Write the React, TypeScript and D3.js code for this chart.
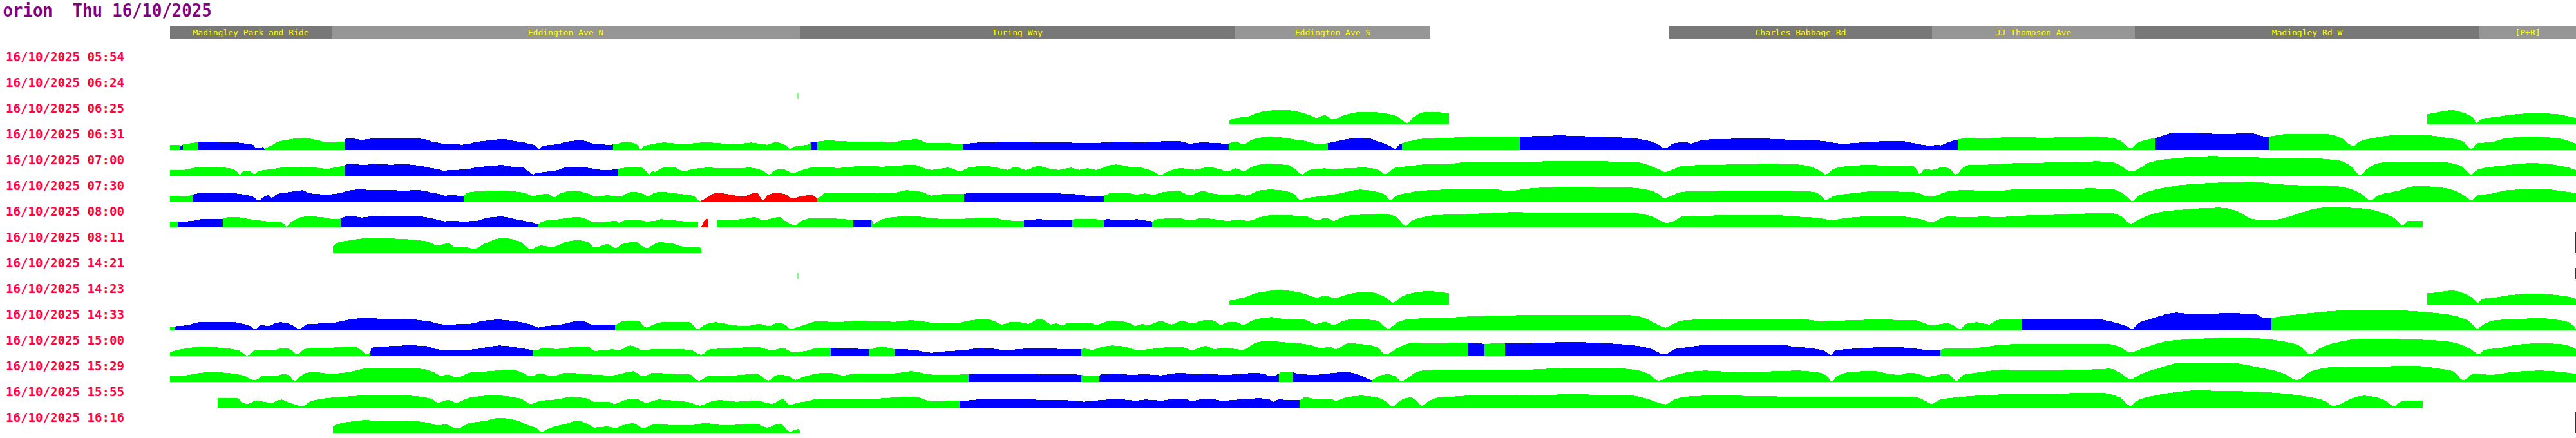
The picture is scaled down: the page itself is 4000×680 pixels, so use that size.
import React from "react";
import * as d3 from "d3";

type Pt = [number, number];
type Seg = [number, number, string];

const title = "orion  Thu 16/10/2025";
const journeyTimes = [
  "16/10/2025 05:54", "16/10/2025 06:24", "16/10/2025 06:25", "16/10/2025 06:31",
  "16/10/2025 07:00", "16/10/2025 07:30", "16/10/2025 08:00", "16/10/2025 08:11",
  "16/10/2025 14:21", "16/10/2025 14:23", "16/10/2025 14:33", "16/10/2025 15:00",
  "16/10/2025 15:29", "16/10/2025 15:55", "16/10/2025 16:16",
];
const stopNames = ["Madingley Park and Ride", "Eddington Ave N", "Turing Way", "Eddington Ave S", "Charles Babbage Rd", "JJ Thompson Ave", "Madingley Rd W", "[P+R]"];
const stopFrom = [0, 251, 978, 1654, 2328, 2736, 3051, 3586];
const stopTo = [251, 978, 1654, 1957, 2736, 3051, 3586, 3736];
const ROUTE_LENGTH = 3736;
// journeys that carry on past the right edge: row index and height
const edgeRows = [7, 8, 14];
const edgeHeights = [33, 17, 33];

const speed0554: Pt[] = [];
const status0554: Seg[] = [];
const speed0624: Pt[] = [[974, 9], [976, 9]];
const status0624: Seg[] = [[974.5, 975.5, "g"]];
const speed0625: Pt[] = [[1645,6],[1651,9],[1674,12],[1686,17],[1706,21],[1718,22],[1734,22],[1754,19],[1770,14],[1781,10],[1793,14],[1805,8],[1826,15],[1846,19],[1866,19],[1886,17],[1906,12],[1921,2],[1931,11],[1951,19],[1969,19],[1986,17],
[3505,16],[3522,19],[3542,22],[3558,19],[3570,14],[3578,8],[3581,2],[3590,9],[3610,11],[3634,15],[3674,17],[3706,16],[3730,11],[3736,10]];
const status0625: Seg[] = [[1645,1986,"g"],[3505,3736,"g"]];
const speed0631: Pt[] = [[0,7.7],[15,7.7],[16,7],[19,7],[20,9.3],[36,11],[44,12.7],[102,12],[116,10.3],[129,8.3],[133,3.3],[140,2.7],[144,5.3],[147,1],[149,3.3],[156,6],[165,12],[178,15.3],[209,18.7],[227,16],[245,12],[271,13.3],[273,17.7],[281,18.3],[298,16],[316,18.3],[361,18],[386,17.7],[396,16.7],[406,13.3],[419,11],[426,9.3],[439,10],[453,8.3],[466,10],[476,12.7],[486,14],[513,16.7],[523,16.7],[533,14.3],[549,12],[559,9.3],[568,6.7],[573,2],[578,6],[586,7.7],[599,8.7],[613,12],[619,13.3],[639,15.3],[649,12.7],[659,9.3],[686,8.3],[688,8.7],[699,11],[709,12.7],[719,11],[726,7.7],[731,1],[736,6],[746,8.7],[759,11],[768,11.7],[787,10],[800,9.3],[825,11.7],[851,11.3],[864,9.3],[889,10],[902,11.7],[915,10],[927,8.3],[940,12],[953,9.3],[964,1],[967,4.3],[978,6.7],[991,8.7],[996,12.7],[1005,13.3],[1023,15],[1055,13.3],[1093,13.3],[1119,12],[1144,16],[1160,16.7],[1176,11],[1208,11],[1232,8.7],[1237,10],[1265,12],[1310,12.7],[1374,12],[1438,11],[1476,13.3],[1501,12],[1565,14.3],[1584,10],[1603,12],[1642,10],[1654,13.3],[1667,9.3],[1680,16],[1693,19.3],[1705,20.7],[1736,18.5],[1749,16],[1762,14.3],[1774,11],[1784,9.3],[1798,11],[1819,15.3],[1841,18.7],[1864,17.7],[1876,13.3],[1892,7.7],[1903,2],[1908,7.7],[1927,14.3],[1946,17.7],[1991,19.3],[2017,20.7],[2096,20.7],[2119,21.7],[2160,22.7],[2208,21],[2259,19.3],[2284,16.7],[2310,9.3],[2321,2.7],[2336,11],[2355,12],[2361,10],[2374,14.3],[2393,16.7],[2469,18],[2501,16.7],[2565,14.3],[2597,10],[2616,11],[2629,12],[2667,14],[2693,13.7],[2705,11.3],[2736,6.7],[2742,8.3],[2749,7.3],[2762,12.7],[2774,16],[2793,18.7],[2819,18],[2851,20],[2915,19.3],[2946,20],[2991,20.7],[3017,18.7],[3029,14.3],[3045,2.7],[3055,11],[3068,16],[3083,18.7],[3093,22],[3112,26.7],[3144,26.7],[3182,25],[3233,26],[3253,21],[3265,21.7],[3284,25],[3342,25.3],[3361,22.7],[3374,17.7],[3390,6],[3399,12.7],[3425,19.3],[3438,21.7],[3476,24.3],[3501,23.7],[3533,19.3],[3559,14.3],[3573,2],[3584,11],[3603,12],[3629,18.7],[3667,21],[3705,18.7],[3725,14.3],[3736,9.3]];
const status0631: Seg[] = [[0,15,"g"],[15,20,"b"],[20,44,"g"],[44,147,"b"],[147,272,"g"],[272,688,"b"],[688,996,"g"],[996,1005,"b"],[1005,1232,"g"],[1232,1644,"b"],[1644,1798,"g"],[1798,1913,"b"],[1913,2096,"g"],[2096,2776,"b"],[2776,3083,"g"],[3083,3260,"b"],[3260,3736,"g"]];
const speed0700: Pt[] = [[0,8.7],[17,8.7],[31,11],[48,14],[66,14],[93,11.7],[104,6.7],[108,1],[113,6.7],[122,7.7],[131,2.7],[138,7.7],[156,10],[173,12.7],[200,12.7],[214,14.3],[227,12.7],[245,11],[258,13.7],[271,15.7],[273,17.7],[281,18.7],[303,16.7],[316,18.7],[343,17.3],[361,18],[386,16],[396,14.3],[406,12],[419,10],[423,8.3],[446,9.3],[466,11],[476,13.3],[486,14.3],[496,15.3],[513,16.7],[523,16],[533,13.7],[549,12.7],[553,9.3],[559,5.3],[564,2],[569,5.3],[576,5.3],[586,6.7],[603,9.3],[613,12.7],[619,13.7],[639,13.3],[653,12],[669,9.3],[686,9.3],[696,11],[706,12.7],[719,14.3],[733,12.7],[739,7.7],[744,2],[749,7.7],[752,6],[762,11],[774,14.3],[784,12.7],[797,7.7],[819,11.7],[838,12.7],[864,11.7],[902,12.7],[921,7.7],[931,2],[940,9.3],[953,10],[966,4.3],[978,7.7],[997,13.3],[1017,14.3],[1036,12],[1055,14],[1080,15.3],[1106,14.3],[1131,16],[1154,17.3],[1182,9.3],[1208,12.7],[1227,7.7],[1240,12.7],[1265,15.3],[1284,12.7],[1300,9.3],[1313,14.3],[1329,9.3],[1348,15.3],[1367,11],[1380,9.3],[1399,12.7],[1412,9.3],[1425,12],[1438,9.3],[1457,16],[1469,17.7],[1489,14.3],[1508,12.7],[1527,6.7],[1538,1],[1546,5.3],[1571,12],[1591,9.3],[1610,13.3],[1629,11],[1642,6.7],[1654,11.7],[1667,7.3],[1680,14.3],[1705,18.7],[1736,16.7],[1746,11],[1758,2],[1768,8.7],[1793,11.7],[1806,10],[1825,11.7],[1857,12.7],[1876,9.3],[1887,2.7],[1902,12.7],[1927,15.3],[1946,17.7],[1978,17.7],[2017,21.7],[2080,21.7],[2144,22.7],[2214,22.7],[2278,21.3],[2297,16],[2310,11],[2321,6],[2336,11],[2348,15.3],[2374,16.7],[2431,17.7],[2482,18.7],[2533,17.3],[2552,12.7],[2565,6],[2571,2],[2581,9.3],[2597,14.3],[2629,16.7],[2705,15.3],[2712,11],[2716,2.7],[2725,10],[2736,9.3],[2752,13.3],[2762,12],[2773,2],[2784,12.7],[2793,16.7],[2832,17.7],[2870,20],[2953,21],[2991,22.7],[3017,21],[3029,16],[3045,6.7],[3055,10],[3074,21],[3119,27.7],[3170,30.7],[3221,29.3],[3278,27.7],[3310,27.7],[3367,24.3],[3387,14.3],[3401,1],[3412,11],[3438,21],[3501,22],[3533,21],[3559,14.3],[3573,2],[3584,10],[3629,16.7],[3667,20],[3705,16.7],[3725,12.7],[3736,9.3]];
const status0700: Seg[] = [[0,272,"g"],[272,696,"b"],[696,3736,"g"]];
const speed0730: Pt[] = [[0,8.7],[13,8.7],[22,8],[36,11],[40,12],[53,14],[102,12.7],[120,10],[129,7.7],[138,1.7],[144,6],[153,10],[158,6],[162,8.7],[171,13.3],[182,14.3],[205,17.7],[218,12.7],[227,12],[245,10.7],[267,14.3],[281,17.7],[294,18.7],[361,17.3],[386,17.7],[399,16],[406,13.3],[419,12],[426,9.3],[439,10],[456,8.7],[459,12],[469,15.3],[513,17],[533,16],[553,12.7],[563,8.7],[573,10.7],[586,12],[596,6.7],[606,12.7],[626,16.7],[639,15.3],[653,11],[659,7.7],[679,10],[699,7.7],[709,12.7],[719,15.3],[733,12.7],[743,8.3],[749,12],[762,15.3],[781,13.3],[800,11],[813,8.7],[823,1],[828,2.7],[838,9.3],[848,13.3],[864,12],[889,8],[905,12.7],[911,14],[921,2],[927,9.3],[940,13.3],[956,11.3],[966,5],[978,7.7],[997,10.7],[1004,6],[1007,6],[1017,13.3],[1029,14.3],[1055,13.7],[1080,14.3],[1119,12.7],[1144,17.7],[1170,14.3],[1182,9.3],[1202,12],[1233,12],[1237,12.7],[1278,13.3],[1310,12.7],[1374,12.7],[1412,11],[1431,8.3],[1450,9.3],[1463,14.3],[1482,14.3],[1501,11],[1514,12.7],[1527,10.7],[1540,14.3],[1565,16.7],[1584,10],[1603,16],[1622,12],[1642,10.7],[1661,12],[1670,9.3],[1693,17.7],[1712,18.7],[1736,15.5],[1746,11],[1755,2.7],[1765,5.3],[1781,7.7],[1800,10],[1819,13.3],[1848,18.7],[1870,16],[1886,11],[1895,2.7],[1905,9.3],[1921,13.3],[1940,16.7],[1978,18.7],[2010,20.3],[2055,20],[2074,16.7],[2093,17.7],[2106,20],[2157,22.7],[2259,22],[2297,17.7],[2310,12.7],[2320,5.3],[2336,11],[2348,15.3],[2374,16],[2438,16.7],[2501,16.7],[2552,15.3],[2565,7.7],[2571,2.7],[2584,8.7],[2616,13.3],[2642,16],[2693,15.3],[2712,14.3],[2725,9.3],[2736,8],[2749,12],[2768,17.3],[2800,17.7],[2806,16.7],[2844,16.7],[2864,19.3],[2927,18.7],[2978,20.7],[3017,19.3],[3029,14.3],[3039,7.7],[3047,0.7],[3055,7.7],[3074,16],[3093,21],[3144,27.7],[3233,30.7],[3278,26.7],[3310,25.3],[3361,24.3],[3387,19.3],[3402,12.7],[3417,1.7],[3428,9.3],[3457,16],[3489,24.3],[3520,22.7],[3546,17.7],[3565,7.7],[3573,1.7],[3584,10],[3603,12],[3629,17.7],[3680,20],[3712,16.7],[3736,13.3]];
const status0730: Seg[] = [[0,36,"g"],[36,456,"b"],[456,824,"g"],[824,1005,"r"],[1005,1233,"g"],[1233,1450,"b"],[1450,3736,"g"]];
const speed0800: Pt[] = [[0,9.3],[12,9.3],[26,9.3],[40,11],[48,12.7],[82,12.7],[84,14.3],[93,16],[111,15.3],[124,12.7],[138,11],[151,9.3],[171,8.7],[178,4.3],[181,0.7],[187,7.3],[196,12.7],[209,16.7],[218,16.7],[236,16],[254,12.7],[266,13.7],[267,15.3],[281,18.3],[298,15.3],[316,17.7],[361,17],[386,17.3],[396,16],[409,13.3],[419,11],[426,9.3],[433,10],[453,9.3],[476,10],[486,13.3],[496,15.3],[513,16.7],[523,16],[533,13.3],[546,11],[556,8.7],[566,6.7],[571,4.3],[573,6],[579,9.3],[593,11.7],[606,12.7],[619,15],[633,16],[643,14.3],[653,9.3],[659,7.7],[673,8.3],[683,9.3],[693,10],[698,6.7],[703,10],[713,12],[726,12],[739,9.3],[753,10],[762,12.7],[781,11],[800,9.3],[820,9.3],[824,0],[825,1],[832,12.7],[835,12.7],[849,12],[864,12],[889,12.7],[908,16],[921,11],[940,15.3],[946,16],[956,9.3],[966,4.3],[969,2.7],[978,8.3],[997,14.3],[1023,14],[1048,12.7],[1061,11.7],[1089,11.7],[1093,6],[1106,12.7],[1131,16.7],[1151,17.7],[1170,16],[1195,13.3],[1221,12.7],[1246,14.3],[1278,15.3],[1297,11],[1323,10],[1329,11],[1348,12.7],[1401,11],[1406,13.3],[1438,12.7],[1450,11],[1453,12.7],[1489,11.7],[1501,12.7],[1525,9.3],[1533,12.7],[1565,14.3],[1584,11],[1603,14.3],[1622,12.7],[1642,10],[1661,11.7],[1674,10],[1693,16],[1712,19.3],[1736,18.7],[1762,17.7],[1774,13.3],[1781,11],[1793,14.3],[1800,13.3],[1806,10],[1819,15.3],[1832,18.7],[1864,20],[1883,21],[1902,17.7],[1911,9.3],[1918,2],[1927,9.3],[1946,16],[1966,19.3],[2004,20],[2023,21],[2055,22.7],[2087,23.7],[2157,22.7],[2246,22.7],[2265,23.3],[2284,21],[2304,16],[2316,9.3],[2323,7],[2336,10],[2348,16.7],[2374,17.7],[2438,19.3],[2501,18.7],[2527,16.7],[2552,15.3],[2571,12.7],[2578,11],[2591,12.7],[2616,16],[2642,17],[2693,16.7],[2718,12.7],[2736,8],[2749,13.3],[2762,17.3],[2781,16],[2819,16.7],[2844,16],[2864,17.7],[2889,18.7],[2921,19.3],[2959,21],[2997,22],[3017,22],[3029,17.7],[3045,6],[3055,11],[3074,19.3],[3093,24.3],[3119,27],[3182,30.7],[3208,26],[3233,13.3],[3259,10.7],[3278,13.3],[3297,18.7],[3323,27],[3348,31.3],[3399,30],[3425,26],[3444,19.3],[3457,12],[3466,3.3],[3476,10.3],[3498,10.3]];
const status0800: Seg[] = [[0,12,"g"],[12,82,"b"],[82,266,"g"],[266,572,"b"],[572,820,"g"],[824,835,"r"],[849,1061,"g"],[1061,1089,"b"],[1089,1326,"g"],[1326,1401,"b"],[1401,1450,"g"],[1450,1525,"b"],[1525,3498,"g"]];
const speed0811: Pt[] = [[253,11],[261,16.7],[281,20],[305,23.3],[345,22.7],[385,20],[401,17.7],[416,12],[432,15.3],[444,8.7],[456,10],[472,6.7],[488,14.3],[516,23.7],[544,17.7],[560,6],[576,12],[592,9.3],[616,17.7],[632,20],[648,17.7],[660,8.7],[680,14.3],[691,7.7],[703,14.3],[723,17.7],[739,7.7],[759,16.7],[775,16],[799,10],[820,10],[825,6]];
const status0811: Seg[] = [[253,825,"g"]];
const speed1421: Pt[] = [[974, 9], [976, 9]];
const status1421: Seg[] = [[974.5, 975.5, "g"]];
const speed1423: Pt[] = [[1645,6],[1648,7],[1658,9],[1674,13],[1686,18],[1706,21],[1718,23],[1734,22],[1754,19],[1770,14],[1780,11],[1794,14],[1808,10],[1826,15],[1846,19],[1866,19],[1882,14],[1891,9],[1899,3],[1910,11],[1929,18],[1953,21],[1969,20],[1985,18],[3505,18],[3522,19],[3542,22],[3558,19],[3570,14],[3578,8],[3584,2],[3590,9],[3610,11],[3634,15],[3674,17],[3706,15],[3730,11],[3736,9]];
const status1423: Seg[] = [[1645,1986,"g"],[3505,3736,"g"]];
const speed1433: Pt[] = [[0,6],[8,6],[10,7],[26,7.7],[34,10],[50,13.3],[102,12.7],[114,10],[126,6],[132,2],[141,8.7],[153,6.7],[165,12],[173,12.7],[189,8.7],[201,2],[213,10],[249,11],[273,16],[293,18.7],[361,17.7],[401,14.3],[424,9.3],[464,10],[488,15.3],[512,16.7],[536,14.3],[560,9.3],[572,4.3],[584,6.7],[608,9.3],[624,13.3],[640,15],[656,8.7],[691,8.7],[703,14.3],[727,15],[739,4.3],[751,9.3],[767,13.3],[807,12.7],[819,2],[831,9.3],[847,12.7],[871,8.7],[895,6.7],[915,10],[931,6.7],[943,12],[955,9.3],[963,2.7],[983,7.7],[1006,14.3],[1038,12.7],[1062,15],[1126,13.3],[1150,16],[1174,13.3],[1190,11],[1222,11.3],[1236,14.3],[1252,16.7],[1272,16.7],[1280,14.3],[1292,9.3],[1308,13.3],[1320,12.7],[1332,10],[1348,17.3],[1356,16.7],[1368,9.3],[1376,11],[1386,7.7],[1395,12],[1427,12],[1439,8.7],[1459,14.7],[1475,14.3],[1491,11],[1499,7],[1511,10],[1519,7.7],[1531,12.7],[1539,14.3],[1555,9.3],[1571,15],[1587,11],[1607,16],[1619,16],[1631,8.7],[1643,12.7],[1654,13.3],[1666,8.7],[1682,16],[1710,20.7],[1730,17.7],[1762,16.7],[1778,10],[1794,13.3],[1806,8.7],[1826,16],[1842,17.7],[1874,15.3],[1892,2.7],[1906,12.7],[1930,18.3],[1977,19.3],[2017,21.7],[2049,22.7],[2113,23.7],[2264,23.7],[2288,20],[2308,10],[2322,4.3],[2336,11],[2352,16],[2384,17],[2432,17.7],[2486,18.3],[2510,18.3],[2542,17],[2562,14.3],[2590,15],[2637,16.7],[2709,16],[2725,11],[2737,7.7],[2749,10],[2761,11],[2771,6.7],[2779,2],[2789,10],[2805,12.7],[2825,9.3],[2837,16],[2853,17.7],[2875,17.7],[2988,17.7],[3012,14.3],[3028,10],[3040,6],[3046,2],[3056,11],[3076,17.7],[3100,25.3],[3116,27.7],[3132,26],[3203,26.7],[3239,25.3],[3251,19.3],[3263,19.3],[3267,20],[3299,24.3],[3331,27.7],[3371,31],[3443,32],[3482,30],[3522,26.7],[3554,21],[3574,11],[3582,2.7],[3594,10],[3610,16],[3650,17.7],[3674,19.3],[3706,16.7],[3726,12],[3736,2.7]];
const status1433: Seg[] = [[0,8,"g"],[8,691,"b"],[691,2875,"g"],[2875,3263,"b"],[3263,3736,"g"]];
const speed1500: Pt[] = [[0,6],[10,9.3],[26,12],[50,15.3],[82,12.7],[106,9.3],[120,1],[133,9.3],[145,10],[157,8.7],[177,12.7],[189,9.3],[197,2.7],[209,11],[225,13.3],[241,12.7],[265,14.3],[285,15.3],[297,9.3],[305,2.7],[311,6],[313,13.3],[337,15.3],[369,16.7],[396,16],[420,10],[464,10],[488,13.3],[512,16.7],[544,12.7],[564,9.3],[568,8.7],[580,13.3],[600,11],[624,14.3],[648,15.3],[660,8.3],[680,10],[687,11],[695,8.7],[715,16.7],[735,9.3],[751,11],[783,11],[807,10],[825,2],[839,11],[863,12],[911,14.3],[935,9.3],[951,12.7],[968,6],[990,8.7],[1006,12.7],[1026,12.7],[1086,11],[1090,11],[1102,15.3],[1118,12.7],[1126,11],[1134,11],[1158,9.3],[1182,5.3],[1206,7.7],[1230,9.3],[1236,10],[1260,12.7],[1284,11],[1300,9.3],[1316,11],[1340,12],[1415,11],[1419,12],[1431,10],[1447,14.3],[1463,16.7],[1491,12.7],[1499,10],[1523,11],[1539,13.3],[1571,14.3],[1587,9.3],[1607,16],[1623,11],[1635,13.3],[1666,10],[1686,21],[1702,23.3],[1738,21],[1770,17.7],[1786,12.7],[1802,14.3],[1810,11],[1830,20],[1858,17.7],[1874,14.3],[1888,2.7],[1906,12.7],[1930,21],[1953,20],[2015,21],[2041,19.3],[2073,20],[2081,20],[2113,20.3],[2169,22],[2232,20],[2264,17.7],[2296,12.7],[2322,2.7],[2336,11],[2360,14.3],[2376,16.7],[2432,17.7],[2486,17.7],[2510,17],[2522,14.3],[2542,13.3],[2558,11],[2570,7.7],[2579,2],[2586,9.3],[2606,11],[2629,12.7],[2677,14.3],[2701,12.7],[2725,10],[2741,8.7],[2749,9.3],[2757,12],[2773,11.7],[2805,12.7],[2829,16],[2861,18.7],[2980,18.7],[3012,18.7],[3028,14.3],[3044,6],[3060,11],[3084,19.3],[3108,24.3],[3164,27.7],[3203,29.3],[3243,27.7],[3283,22.7],[3307,16],[3323,2.7],[3339,12.7],[3371,22.7],[3403,27.3],[3482,26],[3522,24.3],[3554,19.3],[3574,10],[3585,2.7],[3594,10],[3618,12.7],[3642,17.7],[3682,20],[3714,18.7],[3736,11]];
const status1500: Seg[] = [[0,311,"g"],[311,564,"b"],[564,1026,"g"],[1026,1086,"b"],[1086,1126,"g"],[1126,1415,"b"],[1415,2015,"g"],[2015,2041,"b"],[2041,2073,"g"],[2073,2749,"b"],[2749,3736,"g"]];
const speed1529: Pt[] = [[0,8.7],[18,9.3],[42,13.3],[62,15.3],[90,14],[114,10],[132,2.7],[145,9.3],[161,8.7],[177,12],[185,10],[193,1.7],[209,13.3],[225,15.3],[249,12.7],[281,16],[305,21],[385,21],[408,16],[420,10],[432,11],[447,6.7],[464,14.3],[496,16.7],[528,19.3],[544,16],[560,8.7],[576,13.3],[592,8.7],[616,14.3],[648,12],[687,10],[703,13.3],[719,16.7],[735,8.7],[751,14.3],[775,12.7],[807,11.7],[821,2],[839,10],[863,9.3],[887,11],[911,12.7],[929,2],[943,11],[959,10],[971,3.3],[983,7.7],[1006,13.3],[1022,14.3],[1046,10],[1062,12.7],[1110,12.7],[1134,14.3],[1150,16.7],[1174,12.7],[1190,11],[1236,11.7],[1240,12],[1268,13.3],[1316,12.7],[1395,12],[1415,11],[1419,10],[1443,10],[1447,12],[1475,12.7],[1491,11],[1515,12],[1539,10.3],[1555,12.7],[1571,14.3],[1587,12],[1611,12.7],[1635,11],[1658,12],[1682,14],[1698,12.7],[1710,8.7],[1722,12.7],[1726,15.3],[1744,15.3],[1748,13.3],[1778,11],[1794,12.7],[1826,15.3],[1842,12.7],[1858,6],[1866,2.7],[1874,7.7],[1890,12],[1902,9.3],[1912,1],[1926,9.3],[1937,16],[1953,18.3],[2001,19.3],[2113,19.3],[2161,21.7],[2240,21.7],[2272,19.3],[2296,12.7],[2311,2],[2328,7.7],[2352,14.3],[2384,17.7],[2432,15.3],[2486,16.5],[2526,17.7],[2550,16],[2566,13.3],[2574,7.7],[2580,1],[2590,10],[2614,16],[2645,17],[2669,12.7],[2685,11],[2701,14.3],[2717,12],[2729,7.7],[2741,10],[2757,12.7],[2769,6],[2773,1],[2785,11],[2805,14.3],[2845,18.7],[2893,17.7],[2948,18.7],[2980,19.3],[3012,20.7],[3028,14.3],[3044,4.3],[3060,12],[3092,22.7],[3124,30],[3195,30],[3243,22.7],[3283,12.7],[3303,2.7],[3323,16],[3363,23.3],[3443,24.3],[3482,25.3],[3522,21],[3546,16],[3561,2.7],[3578,13.3],[3602,11],[3642,16],[3682,17.7],[3736,12.7]];
const status1529: Seg[] = [[0,1240,"g"],[1240,1415,"b"],[1415,1443,"g"],[1443,1722,"b"],[1722,1744,"g"],[1744,1866,"b"],[1866,3736,"g"]];
const speed1555: Pt[] = [[74,14.7],[104,14.7],[113,7.7],[121,6],[133,11],[145,9.3],[157,7.7],[173,12.7],[185,7.7],[197,4.3],[205,2],[217,9.3],[233,13.3],[265,16.7],[305,19.3],[341,20.3],[385,17.7],[408,12.7],[416,7.7],[432,12],[444,7.7],[464,15.3],[504,19.3],[544,14.3],[560,6],[576,11],[600,12.7],[624,16.7],[648,14.3],[660,8.7],[680,9.3],[691,6],[703,11],[723,14.3],[739,7.7],[759,12.7],[783,11],[807,8.3],[823,3.3],[839,9.3],[855,12],[879,9.3],[911,11],[935,6],[951,13.3],[963,4.3],[974,7.7],[990,10],[1006,14.3],[1022,14.3],[1102,14.3],[1134,16.7],[1158,16.7],[1182,10],[1226,11],[1236,11],[1260,13.3],[1284,13.3],[1324,12.7],[1379,12],[1411,10.3],[1419,9.3],[1435,11],[1475,13.3],[1499,11],[1515,12.7],[1539,11],[1555,13.3],[1571,14.3],[1587,11],[1611,14.3],[1635,11],[1666,13.3],[1690,14.7],[1706,13.3],[1714,9.3],[1722,13.3],[1734,12],[1754,12],[1762,16],[1786,12.7],[1802,14.3],[1810,11],[1826,16],[1850,18.7],[1874,16],[1886,11],[1899,2],[1910,11],[1926,16],[1937,9.3],[1944,2.7],[1953,9.3],[1969,16],[2001,17.7],[2033,20],[2113,19.3],[2161,20.7],[2240,20],[2272,18.7],[2296,13.3],[2322,5.3],[2336,12.7],[2360,17.7],[2392,18.7],[2464,18.3],[2486,17.7],[2566,16.7],[2606,16.7],[2645,17.3],[2709,16.7],[2725,11],[2735,6],[2749,12.7],[2773,16],[2805,18.7],[2845,20.7],[2924,21],[2964,23.3],[2996,23.3],[3028,16],[3044,2.7],[3052,9.3],[3076,17.7],[3116,24.3],[3140,26.7],[3196,26],[3251,24.3],[3283,22],[3315,17.7],[3347,10],[3359,2.7],[3371,6],[3387,14.3],[3407,18.7],[3427,16],[3443,9.3],[3453,2],[3463,9.3],[3475,11],[3498,11]];
const status1555: Seg[] = [[74,1226,"g"],[1226,1754,"b"],[1754,3498,"g"]];
const speed1616: Pt[] = [[253,11],[265,16],[289,19.3],[305,21],[329,18.7],[353,20],[377,19.3],[401,16.7],[416,12.7],[428,14.3],[436,11],[447,7.7],[464,16],[488,19.3],[512,24.3],[544,18.7],[560,11],[568,9.3],[576,2.7],[592,9.3],[616,15.3],[632,20],[648,15.3],[660,9.3],[680,11],[691,8.7],[703,12.7],[719,16],[735,8.7],[755,15],[783,12.7],[807,12.7],[831,16],[863,12.7],[887,14.3],[911,15],[927,9.3],[947,15.3],[963,2.7],[974,6.7],[978,6]];
const status1616: Seg[] = [[253,978,"g"]];

const speedRuns: Pt[][] = [speed0554, speed0624, speed0625, speed0631, speed0700, speed0730, speed0800, speed0811, speed1421, speed1423, speed1433, speed1500, speed1529, speed1555, speed1616];
const statusRuns: Seg[][] = [status0554, status0624, status0625, status0631, status0700, status0730, status0800, status0811, status1421, status1423, status1433, status1500, status1529, status1555, status1616];

const statusColour: Record<string, string> = { g: "#00ff00", b: "#0000ff", r: "#ff0000" };

export default function App() {
  const W = 4000;
  const H = 680;
  const plotLeft = 264;
  const rowStep = 40;
  const firstBase = 113;
  const x = d3.scaleLinear().domain([0, ROUTE_LENGTH]).range([plotLeft, W]);
  const hScale = d3.scaleLinear().domain([0, 40]).range([0, 40]);
  const mono = "'DejaVu Sans Mono', 'Liberation Mono', monospace";

  return (
    <div style={{ position: "absolute", left: 0, top: 0 }}>
      <svg width={W} height={H} style={{ display: "block", background: "#ffffff" }}>
        <defs>
          {statusRuns.map((segs, i) =>
            segs.map((s, k) => {
              const base = firstBase + rowStep * i;
              return (
                <clipPath id={`c${i}_${k}`} key={`c${i}_${k}`}>
                  <rect x={x(s[0])} y={base - 38} width={Math.max(1, x(s[1]) - x(s[0]))} height={38} />
                </clipPath>
              );
            })
          )}
        </defs>
        <text x={4.6} y={26} fontFamily={mono} fontWeight="bold" fontSize={28} fill="#800080" textLength={324} lengthAdjust="spacingAndGlyphs" xmlSpace="preserve">
          {title}
        </text>
        {stopNames.map((n, k) => (
          <g key={n}>
            <rect x={x(stopFrom[k])} y={40} width={x(stopTo[k]) - x(stopFrom[k])} height={20} fill={k % 2 === 0 ? "#787878" : "#969696"} />
            <text x={(x(stopFrom[k]) + x(stopTo[k])) / 2} y={55} textAnchor="middle" fontFamily={mono} fontSize={13} fill="#ffff00">
              {n}
            </text>
          </g>
        ))}
        {journeyTimes.map((t, i) => (
          <text key={t} x={9} y={95 + rowStep * i} fontFamily={mono} fontWeight="bold" fontSize={20} fill="#ff0040" textLength={184} lengthAdjust="spacingAndGlyphs">
            {t}
          </text>
        ))}
        {speedRuns.map((pts, i) => {
          if (!pts.length) return null;
          const base = firstBase + rowStep * i;
          const area = d3
            .area<Pt>()
            .x((d) => x(d[0]))
            .y0(base)
            .y1((d) => base - hScale(d[1]))
            .curve(d3.curveMonotoneX);
          const dPath = area(pts) || "";
          return (
            <g key={`r${i}`}>
              {statusRuns[i].map((s, k) => (
                <path key={k} d={dPath} fill={statusColour[s[2]]} clipPath={`url(#c${i}_${k})`} shapeRendering="crispEdges" />
              ))}
            </g>
          );
        })}
        {edgeRows.map((r, j) => {
          const base = firstBase + rowStep * r;
          return <rect key={`e${r}`} x={W - 2} y={base - hScale(edgeHeights[j])} width={2} height={hScale(edgeHeights[j])} fill="#333333" />;
        })}
      </svg>
    </div>
  );
}
